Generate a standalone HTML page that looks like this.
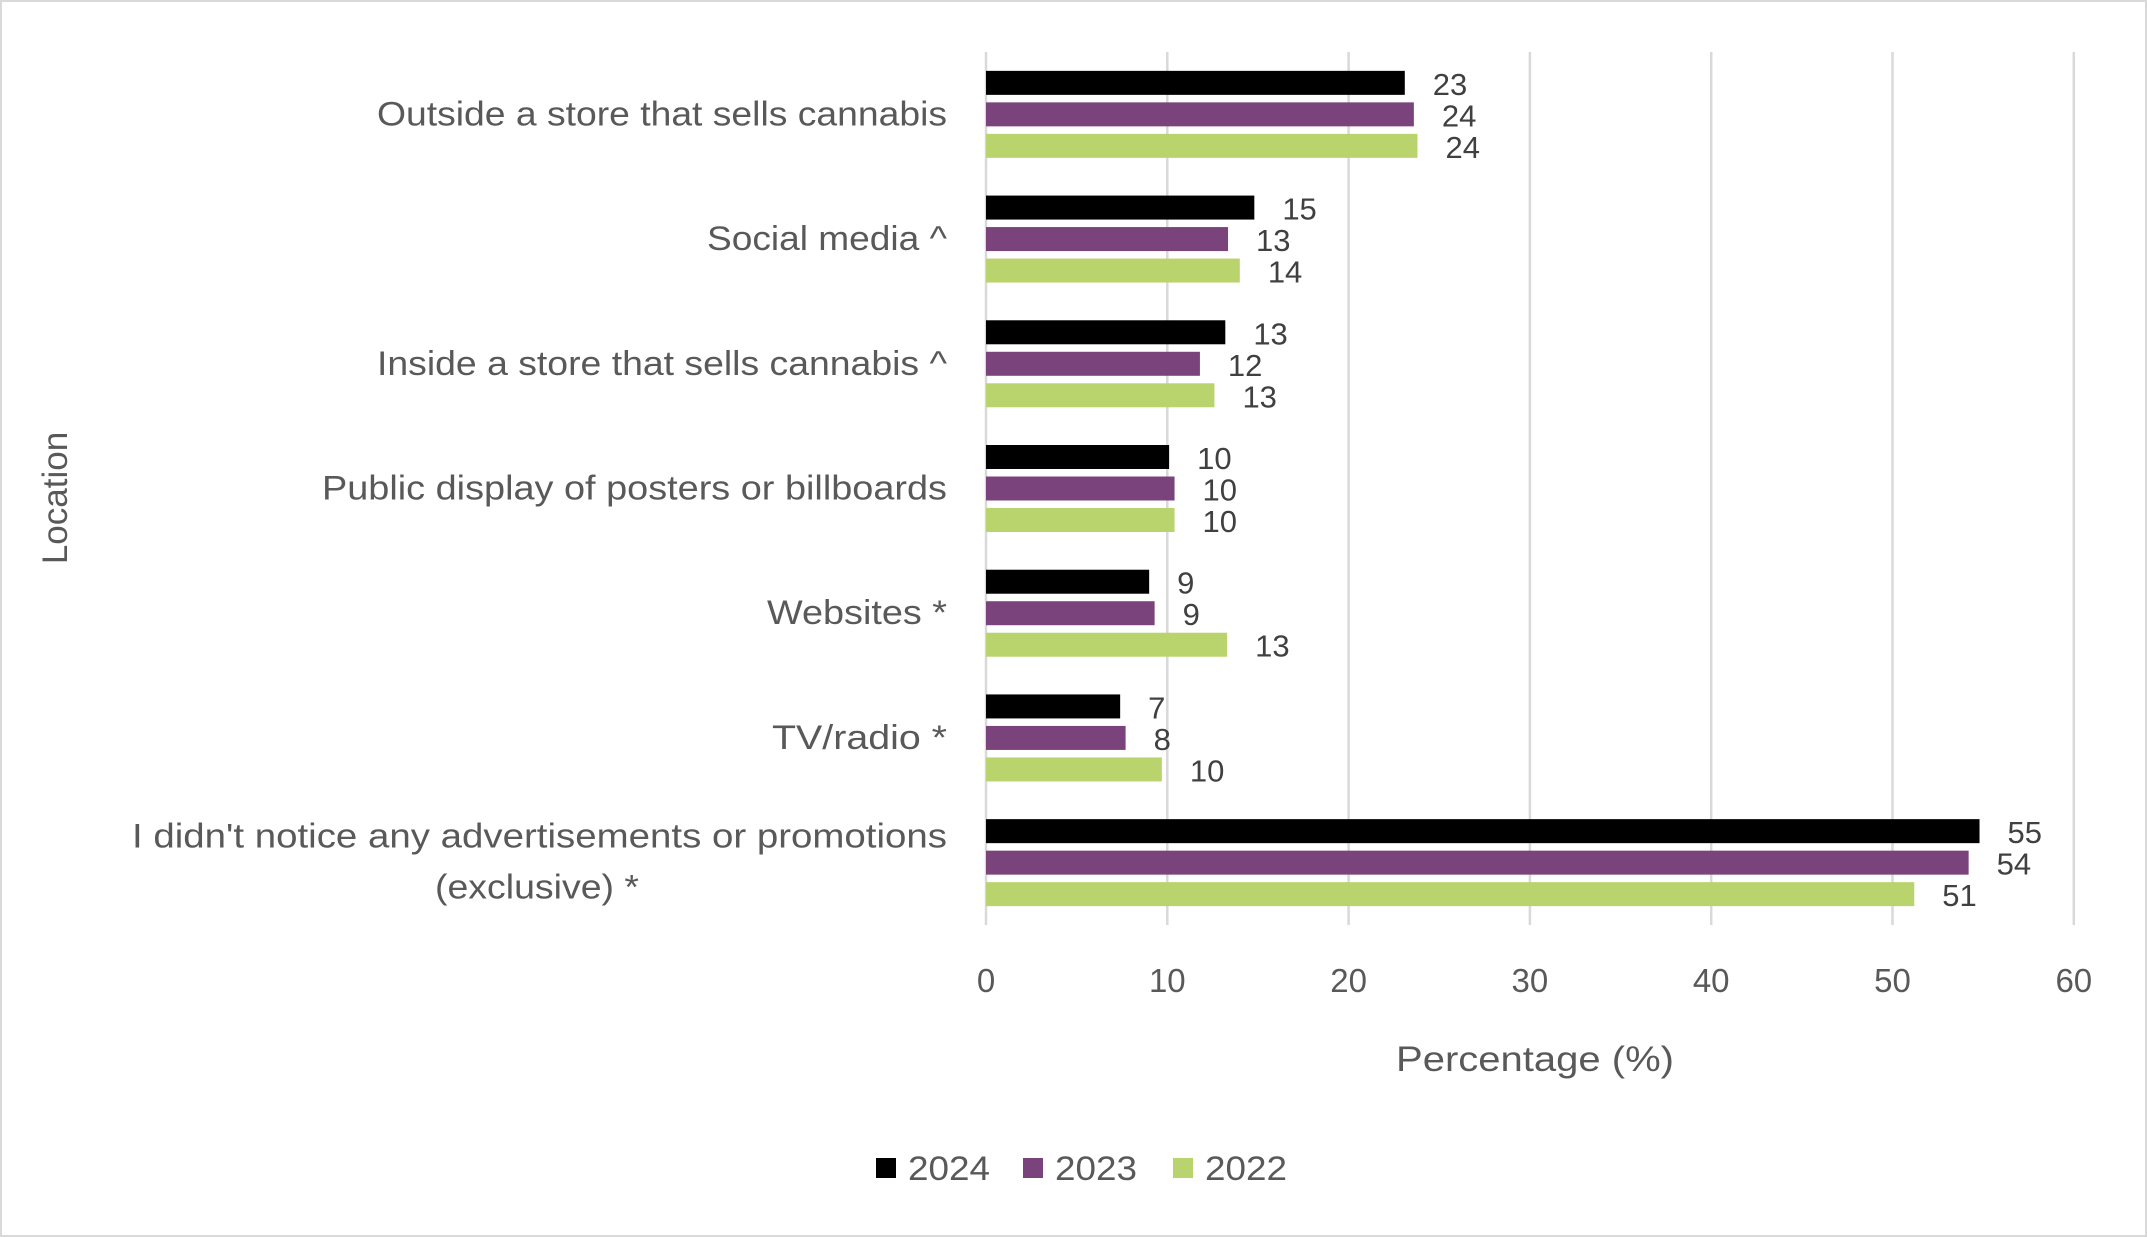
<!DOCTYPE html>
<html><head><meta charset="utf-8"><style>
html,body{margin:0;padding:0;background:#fff}
svg{display:block;font-family:"Liberation Sans",sans-serif}
</style></head><body>
<svg id="chart" width="2147" height="1237">
<rect x="1" y="1" width="2145" height="1235" fill="#fff" stroke="#d9d9d9" stroke-width="2"/>
<g id="grid"></g><g id="bars"></g><g id="labels"></g>
<text x="0" y="0" transform="translate(67,498) rotate(-90)" text-anchor="middle" font-size="35" fill="#595959">Location</text>
<text x="1535" y="1071" text-anchor="middle" font-size="35" fill="#595959" textLength="278" lengthAdjust="spacingAndGlyphs">Percentage (%)</text>
<g id="legend"></g>
</svg>
<script>
const categories = ["Outside a store that sells cannabis","Social media ^","Inside a store that sells cannabis ^","Public display of posters or billboards","Websites *","TV/radio *","I didn't notice any advertisements or promotions|(exclusive) *"];
const catWidths = [570,240,570,625,180,175,815];
const series2024 = [23.1,14.8,13.2,10.1,9.0,7.4,54.8];
const series2023 = [23.6,13.35,11.8,10.4,9.3,7.7,54.2];
const series2022 = [23.8,14.0,12.6,10.4,13.3,9.7,51.2];
const labels2024 = ["23","15","13","10","9","7","55"];
const labels2023 = ["24","13","12","10","9","8","54"];
const labels2022 = ["24","14","13","10","13","10","51"];
const ticks = [0,10,20,30,40,50,60];
const seriesNames = ["2024","2023","2022"];
const colors = ["#000000","#7b437b","#bad46d"];

const NS="http://www.w3.org/2000/svg";
const x0=986, xu=18.13, yTop=52, yBottom=925, band=(yBottom-yTop)/categories.length;
const xs=v=>x0+v*xu;
const yc=i=>yTop+band*(i+0.5);
function mk(tag,attrs,parent){const e=document.createElementNS(NS,tag);for(const k in attrs)e.setAttribute(k,attrs[k]);parent.appendChild(e);return e;}
const grid=document.getElementById('grid'),bars=document.getElementById('bars'),labels=document.getElementById('labels'),legend=document.getElementById('legend');
ticks.forEach(t=>{
  const l=mk('line',{x1:xs(t),x2:xs(t),y1:yTop,y2:yBottom,stroke:'#d9d9d9','stroke-width':2.5},grid);
  
  
  const tx=mk('text',{x:xs(t),y:992,'text-anchor':'middle','font-size':33,fill:'#595959'},grid);
  tx.textContent=t;
  
  
});
const all=[series2024,series2023,series2022], labs=[labels2024,labels2023,labels2022];
categories.forEach((c,i)=>{
  const cy=yc(i);
  all.forEach((s,k)=>{
    const by=cy-12+(k-1)*31.5;
    const r=mk('rect',{x:x0,y:by,width:xs(s[i])-x0,height:24,fill:colors[k]},bars);
    
    
    const t=mk('text',{x:xs(s[i])+28,y:by+24,'font-size':31,fill:'#404040'},labels);
    t.textContent=labs[k][i];
    
    
  });
  const parts=c.split('|');
  if(parts.length===1){
    const t=mk('text',{x:947,y:cy+11,'text-anchor':'end','font-size':34,fill:'#595959',textLength:catWidths[i],lengthAdjust:'spacingAndGlyphs'},labels);
    t.textContent=c;
    
    
  } else {
    const t=mk('text',{x:947,y:cy-15,'text-anchor':'end','font-size':34,fill:'#595959',textLength:catWidths[i],lengthAdjust:'spacingAndGlyphs'},labels);
    t.textContent=parts[0];
    
    
    const t2=mk('text',{x:537,y:cy+36,'text-anchor':'middle','font-size':34,fill:'#595959',textLength:204,lengthAdjust:'spacingAndGlyphs'},labels);
    t2.textContent=parts[1];
    
    
  }
});
const lx=[876,1023,1173];
seriesNames.forEach((n,k)=>{
  const r=mk('rect',{x:lx[k],y:1158,width:20,height:20,fill:colors[k]},legend);
  
  
  const t=mk('text',{x:lx[k]+32,y:1180,'font-size':34,fill:'#595959',textLength:82,lengthAdjust:'spacingAndGlyphs'},legend);
  t.textContent=n;
  
  
});
</script>
</body></html>
